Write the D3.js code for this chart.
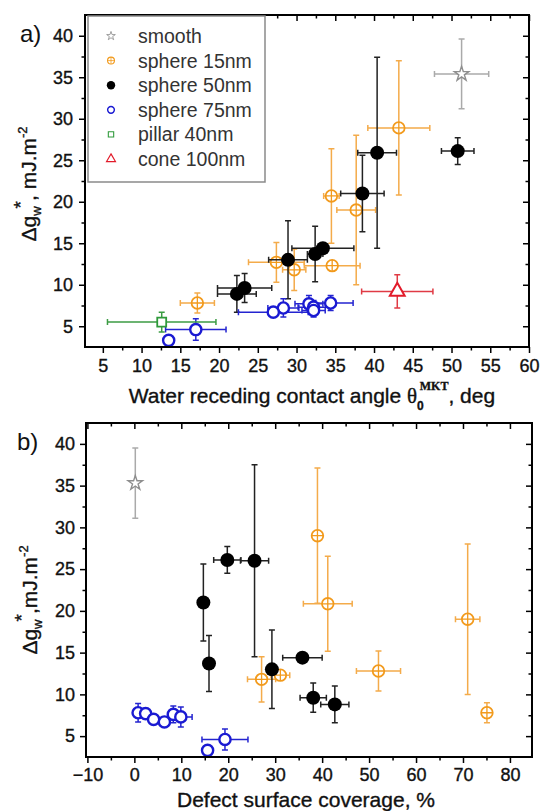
<!DOCTYPE html>
<html>
<head>
<meta charset="utf-8">
<script src="https://cdn.jsdelivr.net/npm/d3@7/dist/d3.min.js"></script>
<style>
  body { margin: 0; background: #fff; }
  svg { display: block; }
  text { font-family: "Liberation Sans", Arial, sans-serif; }
</style>
</head>
<body>
<div id="chart"></div>
<script>
// ---- data: rows are [x, y, xErr, yErr] ----
const seriesNames = ["smooth", "sphere 15nm", "sphere 50nm", "sphere 75nm", "pillar 40nm", "cone 100nm"];

// panel a) receding contact angle, deg
const smoothA = [[51.3, 35.4, 3.5, 4.2]];
const sphere15A = [
  [43.2, 28.9, 4.0, 8.1], [34.5, 20.7, 1.0, 5.7], [37.7, 19.0, 2.5, 9.0],
  [34.6, 12.3, 3.6, 0], [27.4, 12.7, 3.6, 2.4], [29.7, 11.8, 1.5, 2.5], [17.2, 7.8, 2.2, 1.2]
];
const sphere50A = [
  [50.8, 26.1, 2.1, 1.6], [40.4, 25.9, 2.5, 11.5], [38.5, 21.0, 2.8, 4.6], [33.4, 14.4, 4.0, 0],
  [32.4, 13.7, 1.0, 3.35], [28.9, 13.0, 2.5, 4.7], [23.3, 9.6, 3.5, 1.75], [22.3, 8.9, 2.5, 2.2]
];
const sphere75A = [
  [34.4, 7.8, 2.9, 0.9], [31.6, 7.7, 1.8, 1.0], [32.2, 7.3, 2.0, 0.8], [32.2, 6.9, 1.5, 0.8],
  [28.3, 7.2, 2.0, 1.1], [27.0, 6.7, 4.5, 0], [17.0, 4.6, 3.9, 1.3], [13.5, 3.3, 0, 0]
];
const pillarA = [[12.6, 5.5, 7.0, 1.2]];
const coneA = [[43.0, 9.2, 4.6, 2.0]];

// panel b) defect surface coverage, %
const smoothB = [[0.2, 35.3, 0, 4.2]];
const sphere15B = [
  [39.0, 29.0, 0, 8.1], [41.2, 20.85, 5.2, 5.7], [71.0, 19.0, 2.6, 9.0], [52.0, 12.8, 4.7, 2.4],
  [31.1, 12.3, 2.0, 0], [27.1, 11.8, 3.0, 2.7], [75.1, 7.8, 0.8, 1.2]
];
const sphere50B = [
  [19.8, 26.1, 2.9, 1.6], [25.6, 26.0, 3.0, 11.5], [14.7, 21.0, 0, 4.6], [15.9, 13.7, 0, 3.35],
  [29.3, 13.0, 0, 4.7], [35.8, 14.4, 4.2, 0], [38.1, 9.6, 2.8, 1.75], [42.7, 8.8, 3.0, 2.2]
];
const sphere75B = [
  [0.8, 7.8, 0, 1.1], [2.4, 7.7, 0.8, 0.6], [4.1, 7.0, 0.8, 0.5], [6.4, 6.7, 0, 0],
  [8.3, 7.6, 0.8, 1.0], [9.9, 7.3, 2.4, 1.2], [19.3, 4.6, 4.9, 1.25], [15.6, 3.3, 0, 0]
];

// ticks
const yMajor = [5, 10, 15, 20, 25, 30, 35, 40];
const yMinor = [7.5, 12.5, 17.5, 22.5, 27.5, 32.5, 37.5];
const xMajorA = [5, 10, 15, 20, 25, 30, 35, 40, 45, 50, 55, 60];
const xMinorA = [7.5, 12.5, 17.5, 22.5, 27.5, 32.5, 37.5, 42.5, 47.5, 52.5, 57.5];
const xMajorB = [-10, 0, 10, 20, 30, 40, 50, 60, 70, 80];
const xMinorB = [-5, 5, 15, 25, 35, 45, 55, 65, 75];

// ---- styles per series ----
const styles = {
  "smooth":      { kind: "star",     color: "#8e8e8e", err: "#aaaaaa" },
  "sphere 15nm": { kind: "plus",     color: "#f29a1c", err: "#f4ab4a" },
  "sphere 50nm": { kind: "dot",      color: "#000000", err: "#222222" },
  "sphere 75nm": { kind: "ring",     color: "#1a1ad2", err: "#2424d0" },
  "pillar 40nm": { kind: "square",   color: "#2f9a3a", err: "#3c9c44" },
  "cone 100nm":  { kind: "triangle", color: "#e21b2a", err: "#e03a44" }
};

const W = 541, H = 811;
const svg = d3.select("#chart").append("svg").attr("width", W).attr("height", H);

// heavier text, like the scanned original
const ink = sel => sel.attr("fill", "#111").attr("stroke", "#111").attr("stroke-width", 0.35);

function marker(g, cx, cy, st, k) {
  const m = g.append("g").attr("transform", `translate(${cx},${cy})`);
  if (st.kind === "dot") {
    m.append("circle").attr("r", 7 * k).attr("fill", st.color);
  } else if (st.kind === "ring") {
    m.append("circle").attr("r", 5.6 * k).attr("fill", "#fff").attr("stroke", st.color).attr("stroke-width", 2.4 * k);
  } else if (st.kind === "plus") {
    const r = 5.8 * k;
    m.append("circle").attr("r", r).attr("fill", "#fff").attr("stroke", st.color).attr("stroke-width", 1.8 * k);
    m.append("path").attr("d", `M${-r},0H${r}M0,${-r}V${r}`).attr("stroke", st.color).attr("stroke-width", 1.3 * k);
  } else if (st.kind === "star") {
    m.append("path").attr("d", d3.symbol(d3.symbolStar, 65 * k * k)())
      .attr("fill", "#fff").attr("stroke", st.color).attr("stroke-width", 1.4 * k);
  } else if (st.kind === "square") {
    m.append("path").attr("d", d3.symbol(d3.symbolSquare, 80 * k * k)())
      .attr("fill", "#fff").attr("stroke", st.color).attr("stroke-width", 1.8 * k);
  } else if (st.kind === "triangle") {
    m.append("path").attr("d", d3.symbol(d3.symbolTriangle, 95 * k * k)())
      .attr("fill", "#fff").attr("stroke", st.color).attr("stroke-width", 2 * k);
  }
}

function drawSeries(g, x, y, rows, name) {
  const st = styles[name];
  const cap = 3;
  const eg = g.append("g").attr("stroke", st.err).attr("stroke-width", 1.5).attr("fill", "none");
  rows.forEach(([vx, vy, ex, ey]) => {
    const px = x(vx), py = y(vy);
    if (ex) {
      const x0 = x(vx - ex), x1 = x(vx + ex);
      eg.append("path").attr("d", `M${x0},${py}H${x1}M${x0},${py - cap}V${py + cap}M${x1},${py - cap}V${py + cap}`);
    }
    if (ey) {
      const y0 = y(vy - ey), y1 = y(vy + ey);
      eg.append("path").attr("d", `M${px},${y0}V${y1}M${px - cap},${y0}H${px + cap}M${px - cap},${y1}H${px + cap}`);
    }
  });
  const mg = g.append("g");
  rows.forEach(([vx, vy]) => marker(mg, x(vx), y(vy), st, 1));
}

function panel(p) {
  const g = svg.append("g");
  const x = d3.scaleLinear().domain(p.xDomain).range([p.left, p.right]);
  const y = d3.scaleLinear().domain([2.5, 42.5]).range([p.bottom, p.top]);

  const addAxis = (axis, vals, size, shift, labels) => {
    const a = g.append("g").attr("transform", shift)
      .call(axis.tickValues(vals).tickSize(size).tickPadding(p.pad)
        .tickFormat(labels ? d3.format("d") : ""));
    a.select(".domain").remove();
    a.selectAll(".tick line").attr("stroke", "#000").attr("stroke-width", 1.5);
    a.selectAll(".tick text").attr("font-size", 18)
      .attr("font-family", "Liberation Sans, Arial, sans-serif").call(ink);
  };
  addAxis(d3.axisBottom(x), p.xMajor, 6, `translate(0,${p.bottom})`, true);
  addAxis(d3.axisBottom(x), p.xMinor, 3.5, `translate(0,${p.bottom})`, false);
  addAxis(d3.axisTop(x), p.xMajor, -6, `translate(0,${p.top})`, false);
  addAxis(d3.axisTop(x), p.xMinor, -3.5, `translate(0,${p.top})`, false);
  addAxis(d3.axisLeft(y), yMajor, 6, `translate(${p.left},0)`, true);
  addAxis(d3.axisLeft(y), yMinor, 3.5, `translate(${p.left},0)`, false);
  addAxis(d3.axisRight(y), yMajor, -6, `translate(${p.right},0)`, false);
  addAxis(d3.axisRight(y), yMinor, -3.5, `translate(${p.right},0)`, false);

  const plot = g.append("g");
  p.series.forEach(([rows, name]) => drawSeries(plot, x, y, rows, name));

  g.append("rect").attr("x", p.left).attr("y", p.top)
    .attr("width", p.right - p.left).attr("height", p.bottom - p.top)
    .attr("fill", "none").attr("stroke", "#000").attr("stroke-width", 2);

  // panel letter
  g.append("text").attr("x", p.letterX).attr("y", p.letterY).attr("font-size", 24)
    .attr("fill", "#111").text(p.letter);

  // y title
  const yt = g.append("text").attr("transform", `translate(${p.yTitleX},${p.yTitleY}) rotate(-90)`)
    .attr("text-anchor", "middle").attr("font-size", 21).call(ink);
  yt.append("tspan").text("Δg");
  yt.append("tspan").attr("font-size", 13).attr("dy", 5).text("w");
  yt.append("tspan").attr("font-size", 19).attr("dy", -14).attr("dx", -2).text("*");
  yt.append("tspan").attr("dy", 9).text(p.comma + "mJ.m");
  yt.append("tspan").attr("font-size", 13).attr("dy", -9).text("-2");

  return { g, x, y };
}

// panel a
const pa = panel({
  xDomain: [2.7, 60], left: 85, right: 529, top: 15, bottom: 347, pad: 6,
  xMajor: xMajorA, xMinor: xMinorA, letter: "a)", letterX: 20, letterY: 42,
  yTitleX: 36, yTitleY: 184, comma: ", ",
  series: [[smoothA, "smooth"], [sphere15A, "sphere 15nm"], [sphere50A, "sphere 50nm"],
           [sphere75A, "sphere 75nm"], [pillarA, "pillar 40nm"], [coneA, "cone 100nm"]]
});

// x title a
const xta = pa.g.append("text").attr("x", 312).attr("y", 403).attr("text-anchor", "middle")
  .attr("font-size", 21).call(ink);
xta.append("tspan").text("Water receding contact angle ");
xta.append("tspan").attr("font-family", "Liberation Serif, serif").text("θ");
xta.append("tspan").attr("font-size", 12).attr("dy", 7).attr("font-weight", "bold").text("0");
xta.append("tspan").attr("font-size", 12).attr("dy", -20).attr("dx", -4).attr("font-weight", "bold")
  .attr("font-family", "Liberation Serif, serif").text("MKT");
xta.append("tspan").attr("dy", 13).text(", deg");

// legend a
const lg = pa.g.append("g");
lg.append("rect").attr("x", 88).attr("y", 16).attr("width", 177).attr("height", 166)
  .attr("fill", "#fff").attr("stroke", "#8a8a8a").attr("stroke-width", 1.5);
seriesNames.forEach((name, i) => {
  const cy = 36 + i * 24.6;
  marker(lg, 111, cy, styles[name], 0.6);
  lg.append("text").attr("x", 138).attr("y", cy + 7).attr("font-size", 19.5).attr("fill", "#333").text(name);
});

// panel b
const pb = panel({
  xDomain: [-10.3, 84.7], left: 86, right: 532, top: 423, bottom: 757, pad: 5,
  xMajor: xMajorB, xMinor: xMinorB, letter: "b)", letterX: 17, letterY: 450,
  yTitleX: 37, yTitleY: 600, comma: ",",
  series: [[smoothB, "smooth"], [sphere15B, "sphere 15nm"], [sphere50B, "sphere 50nm"],
           [sphere75B, "sphere 75nm"]]
});

pb.g.append("text").attr("x", 306).attr("y", 807).attr("text-anchor", "middle")
  .attr("font-size", 21).call(ink).text("Defect surface coverage, %");
</script>
</body>
</html>
